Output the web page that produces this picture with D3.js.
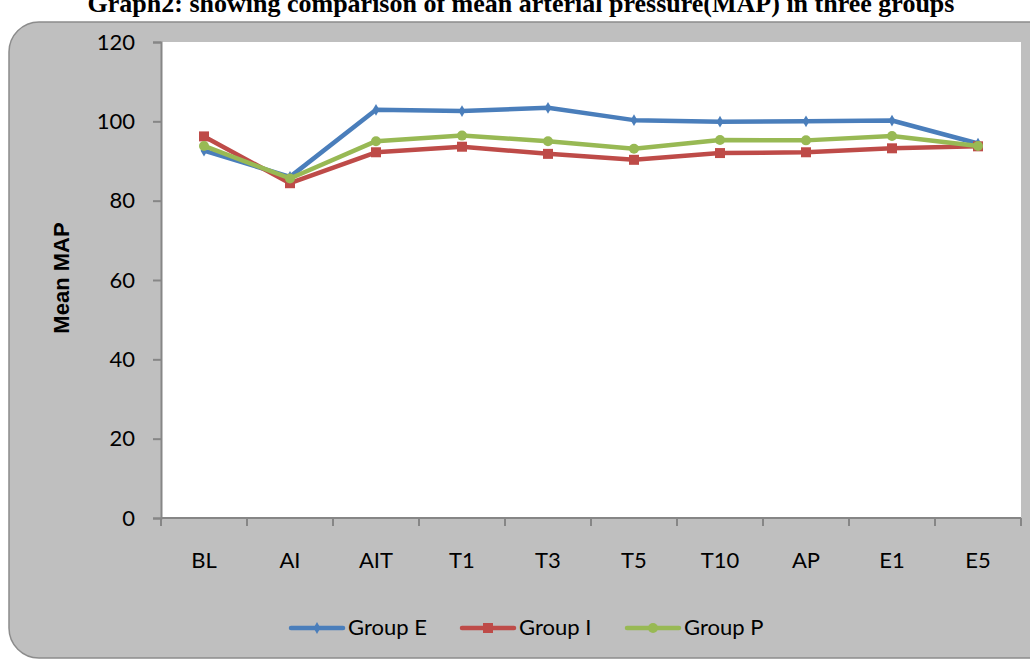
<!DOCTYPE html>
<html>
<head>
<meta charset="utf-8">
<script src="https://cdn.jsdelivr.net/npm/d3@7"></script>
<style>
  html, body { margin: 0; padding: 0; background: #ffffff; }
  svg { display: block; }
</style>
</head>
<body>
<svg id="chart" width="1030" height="660"></svg>
<script>
// Measurement points along the x axis
const categories = ["BL", "AI", "AIT", "T1", "T3", "T5", "T10", "AP", "E1", "E5"];

// Mean arterial pressure per group
const groupE = [92.6, 86.0, 102.9, 102.6, 103.4, 100.3, 99.9, 100.0, 100.2, 94.4];
const groupI = [96.2, 84.4, 92.2, 93.6, 91.8, 90.3, 92.0, 92.2, 93.2, 93.7];
const groupP = [93.8, 85.6, 95.0, 96.4, 95.0, 93.1, 95.3, 95.2, 96.3, 93.8];

const yTicks = [0, 20, 40, 60, 80, 100, 120];
const seriesNames = ["Group E", "Group I", "Group P"];

const series = [
  { name: seriesNames[0], values: groupE, color: "#4a7ebb", marker: "diamond" },
  { name: seriesNames[1], values: groupI, color: "#be4b48", marker: "square" },
  { name: seriesNames[2], values: groupP, color: "#98b954", marker: "circle" }
];

const svg = d3.select("#chart");
const plot = { left: 161, right: 1021, top: 42, bottom: 518 };

// Title, sitting right at the top edge of the page
svg.append("text")
  .attr("x", 521).attr("y", 12)
  .attr("text-anchor", "middle")
  .attr("font-family", "Liberation Serif, Times New Roman, serif")
  .attr("font-weight", "bold")
  .attr("font-size", 26)
  .attr("fill", "#000")
  .text("Graph2: showing comparison of mean arterial pressure(MAP) in three groups");

// Chart frame
svg.append("rect")
  .attr("x", 9).attr("y", 22)
  .attr("width", 1060).attr("height", 636)
  .attr("rx", 30).attr("ry", 30)
  .attr("fill", "#bfbfbf")
  .attr("stroke", "#8c8c8c")
  .attr("stroke-width", 1.5);

// Plot area
svg.append("rect")
  .attr("x", plot.left).attr("y", plot.top)
  .attr("width", plot.right - plot.left).attr("height", plot.bottom - plot.top)
  .attr("fill", "#ffffff");

const x = d3.scaleBand().domain(categories).range([plot.left, plot.right]).padding(0);
const y = d3.scaleLinear().domain([0, 120]).range([plot.bottom, plot.top]);

const labelFont = "Lato, Open Sans, sans-serif";
const labelSize = 22;

// Y axis
const yAxis = svg.append("g")
  .attr("transform", `translate(${plot.left},0)`)
  .call(d3.axisLeft(y).tickValues(yTicks).tickSize(8));
yAxis.select(".domain").attr("stroke", "#868686").attr("stroke-width", 2);
yAxis.selectAll(".tick line").attr("stroke", "#868686").attr("stroke-width", 2);
yAxis.selectAll(".tick text")
  .attr("x", -26).attr("dy", null).attr("y", 7)
  .attr("font-family", labelFont).attr("font-size", labelSize).attr("fill", "#000");

// X axis: ticks sit on band boundaries, labels at band centres
const xAxisG = svg.append("g").attr("transform", `translate(0,${plot.bottom})`);
xAxisG.append("line")
  .attr("x1", plot.left).attr("x2", plot.right)
  .attr("stroke", "#868686").attr("stroke-width", 2);
const boundaries = categories.map(c => x(c)).concat([x(categories[categories.length - 1]) + x.bandwidth()]);
xAxisG.selectAll("line.tk").data(boundaries).join("line")
  .attr("class", "tk")
  .attr("x1", d => d).attr("x2", d => d)
  .attr("y1", 0).attr("y2", 8)
  .attr("stroke", "#868686").attr("stroke-width", 2);
xAxisG.selectAll("text").data(categories).join("text")
  .attr("x", d => x(d) + x.bandwidth() / 2)
  .attr("y", 50)
  .attr("text-anchor", "middle")
  .attr("font-family", labelFont).attr("font-size", labelSize).attr("fill", "#000")
  .text(d => d);

// Y axis title
svg.append("text")
  .attr("transform", `translate(69,278) rotate(-90)`)
  .attr("text-anchor", "middle")
  .attr("font-family", "Liberation Sans, Arial, sans-serif").attr("font-weight", "bold")
  .attr("font-size", 22).attr("fill", "#000")
  .text("Mean MAP");

// Marker shapes
function drawMarker(g, type, color, cx, cy) {
  if (type === "diamond") {
    g.append("path")
      .attr("d", d3.symbol(d3.symbolDiamond, 40)())
      .attr("transform", `translate(${cx},${cy})`)
      .attr("fill", color);
  } else if (type === "square") {
    g.append("rect")
      .attr("x", cx - 5).attr("y", cy - 5)
      .attr("width", 10).attr("height", 10)
      .attr("fill", color);
  } else {
    g.append("circle")
      .attr("cx", cx).attr("cy", cy).attr("r", 5)
      .attr("fill", color);
  }
}

const line = d3.line()
  .x((d, i) => x(categories[i]) + x.bandwidth() / 2)
  .y(d => y(d));

series.forEach(s => {
  const g = svg.append("g");
  g.append("path")
    .attr("d", line(s.values))
    .attr("fill", "none")
    .attr("stroke", s.color)
    .attr("stroke-width", 4.5)
    .attr("stroke-linejoin", "round")
    .attr("stroke-linecap", "round");
  s.values.forEach((v, i) => {
    drawMarker(g, s.marker, s.color, x(categories[i]) + x.bandwidth() / 2, y(v));
  });
});

// Legend
const legendItems = [
  { x: 291, tx: 348 },
  { x: 462, tx: 519 },
  { x: 627, tx: 684 }
];
series.forEach((s, i) => {
  const g = svg.append("g");
  const lx = legendItems[i].x, ly = 628;
  g.append("line")
    .attr("x1", lx).attr("x2", lx + 52)
    .attr("y1", ly).attr("y2", ly)
    .attr("stroke", s.color).attr("stroke-width", 4.5)
    .attr("stroke-linecap", "round");
  drawMarker(g, s.marker, s.color, lx + 26, ly);
  g.append("text")
    .attr("x", legendItems[i].tx).attr("y", 635)
    .attr("font-family", labelFont).attr("font-size", labelSize).attr("fill", "#000")
    .text(s.name);
});
</script>
</body>
</html>
